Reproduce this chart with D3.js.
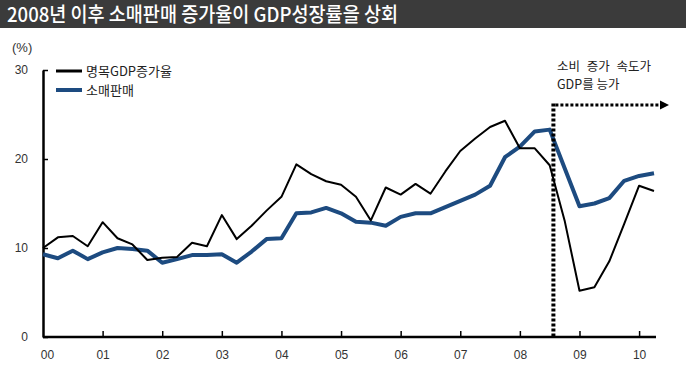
<!DOCTYPE html>
<meta charset="utf-8">
<script src="https://d3js.org/d3.v7.min.js"></script>
<style>
  body { margin: 0; background: #fff; }
  svg text { font-family: "Liberation Sans", Arial, sans-serif; }
  .kr { font-family: "Noto Sans CJK KR", sans-serif; }
</style>
<div id="chart"></div>
<script>

// quarterly data, 2000Q1 .. 2010Q2
var yearLabels = ["00", "01", "02", "03", "04", "05", "06", "07", "08", "09", "10"];
var yTicks = [0, 10, 20, 30];

var gdpGrowth = [10.0, 11.2, 11.35, 10.2, 12.9, 11.1, 10.4, 8.65, 8.9, 9.0,
  10.6, 10.2, 13.7, 11.0, 12.5, 14.2, 15.75, 19.4, 18.3, 17.5,
  17.1, 15.75, 13.1, 16.8, 16.0, 17.2, 16.1, 18.6, 20.9, 22.3,
  23.6, 24.3, 21.2, 21.2, 19.3, 13.1, 5.2, 5.6, 8.5, 12.7,
  17.0, 16.4];

var retailSales = [9.3, 8.85, 9.7, 8.75, 9.5, 10.0, 9.9, 9.7, 8.35, 8.75,
  9.2, 9.2, 9.3, 8.35, 9.6, 11.0, 11.1, 13.9, 14.0, 14.5,
  13.9, 12.95, 12.85, 12.5, 13.5, 13.9, 13.9, 14.6, 15.3, 16.0,
  17.0, 20.2, 21.4, 23.1, 23.3, 19.0, 14.7, 15.0, 15.6, 17.55,
  18.1, 18.4];

var seriesNames = ["명목GDP증가율", "소매판매"];
var seriesColors = ["#000000", "#1d4b80"];
var seriesWidths = [2, 4];

// the "consumption overtakes GDP" marker sits between 2008Q3 and 2008Q4
var markerQuarter = 34.25;

var width = 686, height = 378;

var svg = d3.select("#chart")
  .append("svg")
    .attr("width", width)
    .attr("height", height);

// title bar
svg.append("rect")
  .attr("x", 0).attr("y", 0)
  .attr("width", width).attr("height", 28)
  .attr("fill", "#3b3b3b");

svg.append("text")
  .attr("class", "kr")
  .attr("x", 7).attr("y", 22)
  .attr("fill", "#fff")
  .style("font-size", "20px")
  .style("font-weight", "500")
  .attr("textLength", 391)
  .attr("lengthAdjust", "spacingAndGlyphs")
  .text("2008년 이후 소매판매 증가율이 GDP성장률을 상회");

var x = d3.scaleLinear()
  .domain([0, gdpGrowth.length - 1])
  .range([43, 654]);

var y = d3.scaleLinear()
  .domain([0, 30])
  .range([337, 70]);

// unit
svg.append("text")
  .attr("x", 12).attr("y", 52)
  .style("font-size", "13px")
  .attr("fill", "#333")
  .text("(%)");

// x axis
var xAxis = d3.axisBottom(x)
  .tickValues(d3.range(0, yearLabels.length).map(function(i){ return i * 4; }))
  .tickFormat(function(d){ return yearLabels[d / 4]; })
  .tickSize(-6)
  .tickSizeOuter(0)
  .tickPadding(13);

var gx = svg.append("g")
  .attr("transform", "translate(0," + y(0) + ")")
  .call(xAxis);
gx.select(".domain").attr("stroke-width", 2.5).attr("d", "M" + x(0) + ",0H656");
gx.selectAll(".tick line").attr("stroke-width", 1.5);
gx.selectAll(".tick").filter(function(d){ return d === 0; }).select("line").remove();
gx.selectAll(".tick text")
  .style("font-size", "12px")
  .attr("fill", "#333")
  .attr("dx", function(d){ return d === 0 ? 4 : 0; });

// y axis
var yAxis = d3.axisLeft(y)
  .tickValues(yTicks)
  .tickSize(-5)
  .tickSizeOuter(0)
  .tickPadding(15);

var gy = svg.append("g")
  .attr("transform", "translate(" + x(0) + ",0)")
  .call(yAxis);
gy.select(".domain").attr("stroke-width", 2.5);
gy.selectAll(".tick line").attr("stroke-width", 1.5);
gy.selectAll(".tick text")
  .style("font-size", "12px")
  .attr("fill", "#333");

// lines
var allSeries = [gdpGrowth, retailSales];
var line = d3.line()
  .x(function(d, i){ return x(i); })
  .y(function(d){ return y(d); });

// blue first so the black line stays on top where they cross
for (var k = allSeries.length - 1; k >= 0; k--) {
  svg.append("path")
    .datum(allSeries[k])
    .attr("d", line)
    .attr("fill", "none")
    .attr("stroke", seriesColors[k])
    .attr("stroke-width", seriesWidths[k])
    .attr("stroke-linejoin", "round");
}

// marker: dotted vertical line + dotted arrow
var mx = x(markerQuarter);
var arrowY = 105;

svg.append("line")
  .attr("x1", mx).attr("x2", mx)
  .attr("y1", arrowY - 1.5).attr("y2", y(0))
  .attr("stroke", "#000")
  .attr("stroke-width", 4)
  .attr("stroke-dasharray", "3,2");

svg.append("line")
  .attr("x1", mx + 2).attr("x2", 661)
  .attr("y1", arrowY).attr("y2", arrowY)
  .attr("stroke", "#000")
  .attr("stroke-width", 3)
  .attr("stroke-dasharray", "3,2");

svg.append("path")
  .attr("d", "M660," + (arrowY - 4.5) + "L669," + arrowY + "L660," + (arrowY + 4.5) + "Z")
  .attr("fill", "#000");

svg.append("text")
  .attr("class", "kr")
  .attr("x", 557).attr("y", 71)
  .style("font-size", "12.5px")
  .style("word-spacing", "4px")
  .attr("fill", "#222")
  .text("소비 증가 속도가");

svg.append("text")
  .attr("class", "kr")
  .attr("x", 557).attr("y", 89)
  .style("font-size", "12.5px")
  .attr("fill", "#222")
  .text("GDP를 능가");

// legend
var legend = svg.append("g");
var legendY = [71, 90];

legend.selectAll("line")
  .data(seriesNames)
  .enter()
  .append("line")
  .attr("x1", 56).attr("x2", 82)
  .attr("y1", function(d, i){ return legendY[i]; })
  .attr("y2", function(d, i){ return legendY[i]; })
  .attr("stroke", function(d, i){ return seriesColors[i]; })
  .attr("stroke-width", function(d, i){ return i === 0 ? 3 : 4; });

legend.selectAll("text")
  .data(seriesNames)
  .enter()
  .append("text")
  .attr("class", "kr")
  .attr("x", 86)
  .attr("y", function(d, i){ return legendY[i] + 5; })
  .style("font-size", "13px")
  .attr("fill", "#222")
  .text(function(d){ return d; });

</script>
